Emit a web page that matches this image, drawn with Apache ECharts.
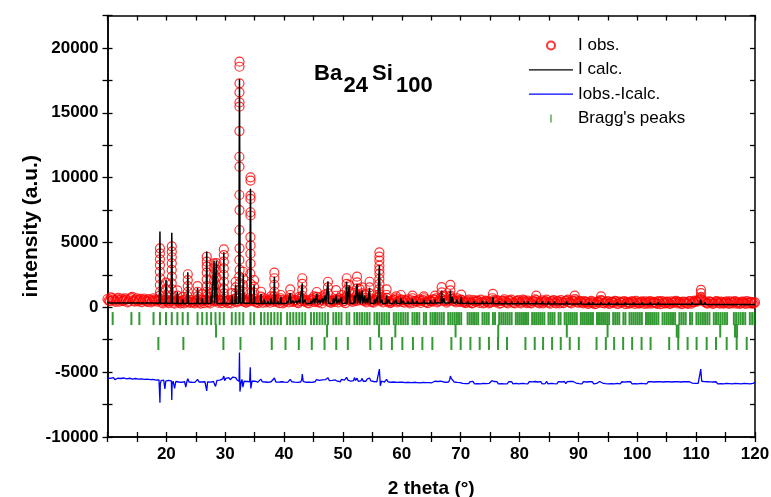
<!DOCTYPE html>
<html>
<head>
<meta charset="utf-8">
<script src="https://cdn.jsdelivr.net/npm/echarts@6/dist/echarts.min.js"></script>
<style>
html,body{margin:0;padding:0;background:#fff;}
#chart{width:771px;height:497px;}
</style>
</head>
<body>
<div id="chart"></div>
<script>
// X-ray powder pattern of Ba24Si100: observed points, calculated profile,
// difference curve (shifted down) and reflection markers for three phases.

// Observed intensities along the background, [2theta, counts]
const obsBackground = [
[10.0,640],[10.4,470],[10.8,700],[11.2,520],[11.6,610],[12.0,430],[12.4,680],[12.8,540],[13.2,590],[13.6,450],
[14.0,720],[14.4,510],[14.8,600],[15.2,460],[15.6,650],[16.0,530],[16.4,580],[16.8,420],[17.2,560],[17.6,480],
[18.0,600],[18.4,430],[18.8,520],[19.2,380],[19.6,460],[20.0,600],[20.4,330],[20.8,520],[21.2,360],[21.6,450],
[22.0,480],[22.4,310],[22.8,560],[23.2,390],[23.6,500],[24.0,340],[24.4,420],[24.8,300],[25.2,520],[25.6,380],
[26.0,560],[26.4,330],[26.8,540],[27.2,380],[27.6,640],[28.0,450],[28.4,560],[28.8,350],[29.2,470],[29.6,520],
[30.0,420],[30.4,330],[30.8,410],[31.2,560],[31.6,440],[32.0,380],[32.4,700],[32.8,520],[33.2,460],[33.6,360],
[34.0,450],[34.4,620],[34.8,480],[35.2,380],[35.6,320],[36.0,510],[36.4,360],[36.8,520],[37.2,470],[37.6,350],
[38.0,540],[38.4,600],[38.8,410],[39.2,330],[39.6,560],[40.0,390],[40.4,520],[40.8,380],[41.2,600],[41.6,450],
[42.0,520],[42.4,330],[42.8,480],[43.2,600],[43.6,420],[44.0,340],[44.4,470],[44.8,550],[45.2,390],[45.6,560],
[46.0,430],[46.4,300],[46.8,520],[47.2,600],[47.6,460],[48.0,350],[48.4,540],[48.8,620],[49.2,380],[49.6,560],
[50.0,430],[50.4,330],[50.8,640],[51.2,600],[51.6,420],[52.0,580],[52.4,660],[52.8,540],[53.2,620],[53.6,480],
[54.0,380],[54.4,600],[54.8,450],[55.2,350],[55.6,520],[56.0,600],[56.4,480],[56.8,380],[57.2,540],[57.6,420],
[58.0,330],[58.4,470],[58.8,540],[59.2,380],[59.6,460],[60.0,560],[60.4,350],[60.8,480],[61.2,400],[61.6,530],
[62.0,360],[62.4,470],[62.8,540],[63.2,340],[63.6,560],[64.0,420],[64.4,320],[64.8,510],[65.2,440],[65.6,560],
[66.0,380],[66.4,520],[66.8,640],[67.2,480],[67.6,360],[68.0,560],[68.4,620],[68.8,470],[69.2,380],[69.6,520],
[70.0,600],[70.4,400],[70.8,320],[71.2,480],[71.6,400],[72.0,300],[72.4,460],[72.8,520],[73.2,340],[73.6,430],
[74.0,360],[74.4,480],[74.8,300],[75.2,420],[75.6,560],[76.0,380],[76.4,470],[76.8,330],[77.2,520],[77.6,440],
[78.0,310],[78.4,470],[78.8,390],[79.2,300],[79.6,480],[80.0,380],[80.4,440],[80.8,520],[81.2,330],[81.6,410],
[82.0,300],[82.4,460],[82.8,560],[83.2,350],[83.6,420],[84.0,310],[84.4,480],[84.8,390],[85.2,280],[85.6,450],
[86.0,360],[86.4,500],[86.8,310],[87.2,430],[87.6,360],[88.0,520],[88.4,400],[88.8,300],[89.2,460],[89.6,540],
[90.0,350],[90.4,440],[90.8,300],[91.2,380],[91.6,260],[92.0,410],[92.4,330],[92.8,240],[93.2,420],[93.6,360],
[94.0,510],[94.4,300],[94.8,380],[95.2,260],[95.6,420],[96.0,340],[96.4,460],[96.8,280],[97.2,370],[97.6,430],
[98.0,250],[98.4,400],[98.8,320],[99.2,440],[99.6,270],[100.0,380],[100.4,310],[100.8,450],[101.2,260],[101.6,360],
[102.0,420],[102.4,280],[102.8,390],[103.2,330],[103.6,470],[104.0,250],[104.4,380],[104.8,310],[105.2,420],[105.6,270],
[106.0,360],[106.4,440],[106.8,300],[107.2,380],[107.6,250],[108.0,410],[108.4,330],[108.8,460],[109.2,280],[109.6,400],
[110.0,470],[110.4,560],[110.8,700],[111.2,520],[111.6,380],[112.0,300],[112.4,420],[112.8,260],[113.2,370],[113.6,440],
[114.0,290],[114.4,380],[114.8,320],[115.2,450],[115.6,260],[116.0,370],[116.4,420],[116.8,280],[117.2,390],[117.6,310],
[118.0,430],[118.4,260],[118.8,360],[119.2,420],[119.6,290],[120.0,380]
];
// Observed intensities along the background, intermediate steps, [2theta, counts]
const obsBackgroundMid = [
[10.2,520],[10.6,760],[11.0,600],[11.4,420],[11.8,730],[12.2,560],[12.6,470],[13.0,690],[13.4,380],[13.8,620],
[14.2,800],[14.6,440],[15.0,700],[15.4,560],[15.8,400],[16.2,680],[16.6,470],[17.0,640],[17.4,380],[17.8,700],
[18.2,520],[18.6,560],[19.0,640],[19.4,300],[19.8,560],[20.2,420],[20.6,480],[21.0,620],[21.4,280],[21.8,560],
[22.2,380],[22.6,470],[23.0,300],[23.4,620],[23.8,420],[24.2,560],[24.6,380],[25.0,460],[25.4,640],[25.8,290],
[26.2,480],[26.6,600],[27.0,420],[27.4,300],[27.8,560],[28.2,700],[28.6,480],[29.0,600],[29.4,330],[29.8,640],
[30.2,480],[30.6,560],[31.0,300],[31.4,620],[31.8,700],[32.2,480],[32.6,900],[33.0,620],[33.4,380],[33.8,540],
[34.2,700],[34.6,560],[35.0,640],[35.4,420],[35.8,500],[36.2,620],[36.6,700],[37.0,380],[37.4,560],[37.8,680],
[38.2,420],[38.6,500],[39.0,600],[39.4,700],[39.8,300],[40.2,480],[40.6,600],[41.0,700],[41.4,420],[41.8,560],
[42.2,380],[42.6,640],[43.0,700],[43.4,480],[43.8,560],[44.2,300],[44.6,620],[45.0,700],[45.4,480],[45.8,380],
[46.2,560],[46.6,680],[47.0,760],[47.4,620],[47.8,380],[48.2,500],[48.6,420],[49.0,560],[49.4,700],[49.8,640],
[50.2,480],[50.6,760],[51.0,680],[51.4,520],[51.8,700],[52.2,480],[52.6,760],[53.0,680],[53.4,560],[53.8,720],
[54.2,520],[54.6,680],[55.0,400],[55.4,580],[55.8,720],[56.2,820],[56.6,560],[57.0,640],[57.4,720],[57.8,480],
[58.2,380],[58.6,600],[59.0,700],[59.4,480],[59.8,620],[60.2,420],[60.6,560],[61.0,620],[61.4,300],[61.8,700],
[62.2,500],[62.6,420],[63.0,620],[63.4,480],[63.8,700],[64.2,380],[64.6,560],[65.0,460],[65.4,620],[65.8,700],
[66.2,480],[66.6,720],[67.0,800],[67.4,560],[67.8,460],[68.2,780],[68.6,640],[69.0,520],[69.4,700],[69.8,420],
[70.2,560],[70.6,460],[71.0,380],[71.4,600],[71.8,320],[72.2,560],[72.6,420],[73.0,480],[73.4,600],[73.8,300],
[74.2,520],[74.6,420],[75.0,360],[75.4,700],[75.8,460],[76.2,560],[76.6,280],[77.0,480],[77.4,620],[77.8,380],
[78.2,540],[78.6,600],[79.0,340],[79.4,470],[79.8,560],[80.2,300],[80.6,600],[81.0,420],[81.4,520],[81.8,340],
[82.2,460],[82.6,620],[83.0,420],[83.4,300],[83.8,540],[84.2,420],[84.6,600],[85.0,340],[85.4,480],[85.8,560],
[86.2,300],[86.6,440],[87.0,560],[87.4,320],[87.8,480],[88.2,600],[88.6,360],[89.0,520],[89.4,640],[89.8,380],
[90.2,500],[90.6,360],[91.0,480],[91.4,420],[91.8,300],[92.2,500],[92.6,380],[93.0,280],[93.4,460],[93.8,560],
[94.2,340],[94.6,420],[95.0,480],[95.4,300],[95.8,400],[96.2,500],[96.6,260],[97.0,440],[97.4,340],[97.8,480],
[98.2,360],[98.6,280],[99.0,460],[99.4,380],[99.8,500],[100.2,300],[100.6,400],[101.0,350],[101.4,460],[101.8,280],
[102.2,480],[102.6,360],[103.0,420],[103.4,270],[103.8,400],[104.2,480],[104.6,330],[105.0,440],[105.4,300],[105.8,460],
[106.2,360],[106.6,500],[107.0,420],[107.4,290],[107.8,440],[108.2,360],[108.6,270],[109.0,480],[109.4,380],[109.8,520],
[110.2,440],[110.6,620],[111.0,580],[111.4,440],[111.8,300],[112.2,460],[112.6,380],[113.0,300],[113.4,480],[113.8,340],
[114.2,440],[114.6,280],[115.0,400],[115.4,320],[115.8,460],[116.2,300],[116.6,480],[117.0,360],[117.4,260],[117.8,440],
[118.2,340],[118.6,470],[119.0,300],[119.4,400],[119.8,330]
];

// Observed intensities on the reflections, [2theta, counts]
const obsPeaks = [
[18.91,4550],[18.91,4160],[18.91,3700],[18.91,3260],[18.90,2740],[18.92,2240],[18.90,1720],[18.93,1200],[18.88,900],
[19.94,1900],[19.94,1400],[19.95,950],
[20.92,4700],[20.92,4290],[20.92,3860],[20.92,3390],[20.91,2880],[20.93,2360],[20.91,1850],[20.94,1390],[20.89,950],
[21.87,1300],[21.88,900],[22.77,800],
[23.64,2550],[23.64,2100],[23.63,1640],[23.65,1200],[23.62,850],
[25.30,1640],[25.30,1200],[25.31,850],[26.09,1000],
[26.86,3900],[26.86,3520],[26.86,3130],[26.86,2670],[26.85,2160],[26.87,1640],[26.85,1200],[26.88,850],
[27.61,1100],[27.62,800],
[28.10,3390],[28.10,3000],[28.10,2570],[28.09,2100],[28.11,1640],[28.09,1200],
[28.50,3400],[28.50,2900],[28.51,2300],[28.49,1700],[28.52,1150],
[29.76,4470],[29.76,4030],[29.76,3520],[29.76,3000],[29.75,2490],[29.77,1970],[29.75,1460],[29.78,1080],
[31.12,1100],[31.77,1970],[31.77,1540],[31.78,1080],
[32.42,18940],[32.42,18550],[32.42,17270],[32.42,16580],[32.42,15800],[32.42,15470],[32.42,13590],[32.41,11610],
[32.42,10840],[32.41,8660],[32.43,7500],[32.41,5960],[32.43,4550],[32.40,3650],[32.44,2880],[32.39,2370],
[32.45,1870],[32.38,1350],[32.47,1000],
[33.06,2740],[33.06,2240],[33.05,1720],[33.07,1200],
[34.29,10020],[34.29,9770],[34.29,8610],[34.29,8360],[34.29,7330],[34.29,7080],[34.28,5410],[34.30,4770],
[34.28,4130],[34.30,3360],[34.27,2600],[34.31,1800],[34.26,1100],
[34.90,2100],[34.90,1590],[34.91,1130],[36.08,1200],[36.09,820],[37.80,850],
[38.35,2670],[38.35,2240],[38.34,1720],[38.36,1200],[38.33,850],[39.45,950],
[41.04,1390],[41.05,950],[42.59,800],
[43.09,2240],[43.09,1800],[43.08,1330],[43.10,890],[45.07,850],[45.55,1180],[45.56,800],
[46.51,850],[46.98,1000],[47.45,1970],[47.45,1540],[47.46,1080],[48.83,1330],[48.84,890],[49.74,950],
[50.63,2240],[50.63,1800],[50.62,1330],[50.64,890],[51.07,1720],[51.07,1200],[51.95,1100],
[52.39,2360],[52.39,1930],[52.38,1460],[52.40,1000],[52.82,1400],[53.25,1540],[53.25,1080],[53.68,1000],
[54.52,1970],[54.52,1540],[54.53,1080],[55.78,950],
[56.19,4240],[56.19,3910],[56.19,3600],[56.19,3210],[56.18,2880],[56.20,2580],[56.18,2190],[56.20,1810],
[56.17,1400],[56.21,1000],
[57.42,1390],[57.43,950],[59.04,850],[59.84,950],[61.81,900],[63.74,850],[65.64,900],
[66.76,1550],[66.77,1150],[67.14,900],[68.25,1730],[68.25,1300],[68.26,900],
[70.09,985],[75.48,1040],[82.83,900],[89.38,900],[93.85,850],
[110.82,1350],[110.82,1090],[110.83,800]
];

// Calculated profile, [2theta, counts]
const calcProfile = [
[10.00,340],[10.78,340],[10.88,420],[10.98,340],[13.96,335],[14.06,420],[14.16,335],
[15.31,335],[15.41,450],[15.51,335],[17.72,330],[17.82,450],[17.92,330],
[18.81,320],[18.91,5850],[19.01,320],[19.84,310],[19.94,2150],[20.04,310],
[20.82,310],[20.92,5750],[21.02,310],[21.77,300],[21.87,1200],[21.97,300],
[22.67,300],[22.77,620],[22.87,300],[23.54,300],[23.64,2700],[23.74,300],
[25.20,300],[25.30,1500],[25.40,300],[25.99,300],[26.09,700],[26.19,300],
[26.76,300],[26.86,4300],[26.96,300],[27.51,300],[27.61,900],[27.71,300],
[28.00,300],[28.10,3600],[28.20,300],[28.40,300],[28.50,3600],[28.60,300],
[29.66,300],[29.76,4250],[29.86,300],[31.02,300],[31.12,900],[31.22,300],
[31.67,300],[31.77,1700],[31.87,300],[32.30,320],[32.42,17600],[32.54,340],
[32.96,330],[33.06,2550],[33.16,320],[34.17,320],[34.29,9150],[34.41,320],
[34.80,310],[34.90,1700],[35.00,300],[35.98,300],[36.08,1050],[36.18,300],
[36.56,300],[36.66,600],[36.76,300],[37.13,300],[37.23,500],[37.33,300],
[37.70,300],[37.80,700],[37.90,300],[38.25,300],[38.35,2350],[38.45,300],
[38.80,300],[38.90,500],[39.00,300],[39.35,300],[39.45,800],[39.55,300],
[40.42,300],[40.52,500],[40.62,300],[40.94,300],[41.04,1100],[41.14,300],
[41.46,300],[41.56,500],[41.66,300],[41.98,300],[42.08,500],[42.18,300],
[42.49,300],[42.59,600],[42.69,300],[42.99,300],[43.09,1850],[43.19,300],
[43.49,300],[43.59,600],[43.69,300],[44.48,300],[44.58,500],[44.68,300],
[44.97,300],[45.07,700],[45.17,300],[45.45,300],[45.55,1050],[45.65,300],
[45.93,300],[46.03,600],[46.13,300],[46.41,300],[46.51,700],[46.61,300],
[46.88,300],[46.98,900],[47.08,300],[47.35,300],[47.45,2000],[47.55,300],
[48.27,300],[48.37,700],[48.47,300],[48.73,300],[48.83,900],[48.93,300],
[49.18,300],[49.28,600],[49.38,300],[49.64,300],[49.74,800],[49.84,300],
[50.53,300],[50.63,1950],[50.73,300],[50.97,300],[51.07,1700],[51.17,300],
[51.85,300],[51.95,900],[52.05,300],[52.29,300],[52.39,1800],[52.49,300],
[52.72,300],[52.82,1200],[52.92,300],[53.15,300],[53.25,1300],[53.35,300],
[53.58,300],[53.68,900],[53.78,300],[54.00,300],[54.10,700],[54.20,300],
[54.42,300],[54.52,1500],[54.62,300],[55.26,300],[55.36,600],[55.46,300],
[55.68,300],[55.78,800],[55.88,300],[56.07,310],[56.19,3250],[56.31,310],
[56.51,300],[56.61,600],[56.71,300],[57.32,300],[57.42,900],[57.52,300],
[57.73,300],[57.83,600],[57.93,300],[58.54,300],[58.64,500],[58.74,300],
[58.94,300],[59.04,600],[59.14,300],[59.74,300],[59.84,700],[59.94,300],
[60.14,300],[60.24,500],[60.34,300],[60.92,310],[61.02,500],[61.12,310],
[61.71,310],[61.81,650],[61.91,310],[62.48,310],[62.58,500],[62.68,310],
[63.64,320],[63.74,600],[63.84,320],[64.78,320],[64.88,550],[64.98,320],
[65.54,330],[65.64,600],[65.74,330],[66.66,340],[66.76,1300],[66.86,340],
[67.04,340],[67.14,700],[67.24,340],[68.15,340],[68.25,1300],[68.35,340],
[68.52,340],[68.62,800],[68.72,340],[69.26,330],[69.36,600],[69.46,330],
[69.99,320],[70.09,800],[70.19,320],[71.08,300],[71.18,500],[71.28,300],
[72.16,300],[72.26,500],[72.36,300],[73.60,290],[73.70,500],[73.80,290],
[74.32,290],[74.42,450],[74.52,290],[75.38,290],[75.48,800],[75.58,290],
[76.44,280],[76.54,450],[76.64,280],[77.50,280],[77.60,500],[77.70,280],
[78.56,280],[78.66,450],[78.76,280],[79.60,280],[79.70,450],[79.80,280],
[80.65,280],[80.75,450],[80.85,280],[81.35,270],[81.45,450],[81.55,270],
[82.73,270],[82.83,450],[82.93,270],[83.77,270],[83.87,450],[83.97,270],
[84.81,260],[84.91,450],[85.01,260],[85.84,260],[85.94,450],[86.04,260],
[86.87,260],[86.97,400],[87.07,260],[87.90,260],[88.00,450],[88.10,260],
[88.93,250],[89.03,400],[89.13,250],[90.31,250],[90.41,450],[90.51,250],
[91.68,240],[91.78,400],[91.88,240],[92.37,240],[92.47,400],[92.57,240],
[93.75,240],[93.85,400],[93.95,240],[95.12,240],[95.22,400],[95.32,240],
[96.51,230],[96.61,400],[96.71,230],[97.89,230],[97.99,400],[98.09,230],
[99.28,230],[99.38,400],[99.48,230],[100.68,230],[100.78,400],[100.88,230],
[102.08,230],[102.18,400],[102.28,230],[103.49,230],[103.59,400],[103.69,230],
[104.91,230],[105.01,380],[105.11,230],[106.33,230],[106.43,380],[106.53,230],
[107.77,230],[107.87,380],[107.97,230],[109.22,230],[109.32,400],[109.42,230],
[110.68,230],[110.78,600],[110.88,230],[111.42,230],[111.52,400],[111.62,230],
[112.90,220],[113.00,350],[113.10,220],[114.40,220],[114.50,350],[114.60,220],
[115.16,220],[115.26,350],[115.36,220],[116.69,220],[116.79,350],[116.89,220],
[118.24,220],[118.34,350],[118.44,220],[119.42,220],[119.52,330],[119.62,220],
[120.00,220]
];

// Difference curve Iobs - Icalc, already shifted down, [2theta, counts]
const diffCurve = [
[10.00,-5440],[10.25,-5560],[10.50,-5480],[10.75,-5530],[11.00,-5420],[11.25,-5580],[11.50,-5500],[11.75,-5470],
[12.00,-5590],[12.25,-5490],[12.50,-5540],[12.75,-5450],[13.00,-5600],[13.25,-5510],[13.50,-5560],[13.75,-5470],
[14.00,-5620],[14.25,-5530],[14.50,-5580],[14.75,-5490],[15.00,-5640],[15.25,-5540],[15.50,-5600],[15.75,-5520],
[16.00,-5650],[16.25,-5560],[16.50,-5620],[16.75,-5540],[17.00,-5680],[17.25,-5580],[17.50,-5640],[17.75,-5560],
[18.00,-5700],[18.25,-5610],[18.50,-5660],[18.75,-5600],[18.85,-5700],[18.91,-7350],[18.97,-5900],[19.10,-5650],
[19.35,-5740],[19.55,-5620],[19.75,-6300],[19.90,-5700],[20.10,-5780],[20.35,-5640],[20.60,-5740],[20.85,-5680],
[20.92,-7150],[20.98,-5900],[21.15,-5700],[21.40,-6250],[21.60,-5720],[21.85,-5620],[22.10,-5760],[22.35,-5660],
[22.60,-5780],[22.85,-5640],[23.10,-5740],[23.30,-6150],[23.50,-5700],[23.64,-5500],[23.85,-5760],[24.10,-5640],
[24.35,-5780],[24.60,-5660],[24.85,-5790],[25.10,-5680],[25.30,-5560],[25.55,-5760],[25.80,-5650],[26.05,-5760],
[26.30,-5640],[26.55,-5740],[26.80,-5650],[26.86,-6450],[27.00,-5750],[27.25,-5620],[27.50,-5770],[27.75,-5640],
[28.00,-5720],[28.20,-5600],[28.35,-6100],[28.60,-5640],[28.85,-5740],[29.10,-5620],[29.35,-5700],[29.55,-5520],
[29.76,-5300],[29.90,-5650],[30.10,-5480],[30.35,-5600],[30.60,-5420],[30.85,-5580],[31.05,-5470],[31.30,-5380],
[31.55,-5520],[31.77,-5420],[32.00,-5600],[32.20,-5520],[32.35,-5700],[32.42,-3480],[32.50,-6500],[32.70,-5750],
[32.85,-5560],[33.00,-6150],[33.20,-5700],[33.45,-5600],[33.70,-5720],[33.95,-5620],[34.15,-5740],[34.25,-4620],
[34.35,-6250],[34.55,-5700],[34.80,-5560],[35.05,-5700],[35.30,-5620],[35.55,-5770],[35.80,-5650],[36.05,-5540],
[36.30,-5740],[36.55,-5640],[36.80,-5760],[37.05,-5650],[37.30,-5780],[37.55,-5660],[37.80,-5740],[38.05,-5640],
[38.35,-5450],[38.60,-5760],[38.85,-5650],[39.10,-5770],[39.35,-5660],[39.60,-5740],[39.85,-5630],[40.10,-5770],
[40.35,-5680],[40.60,-5790],[40.85,-5660],[41.05,-5560],[41.30,-5740],[41.55,-5650],[41.80,-5770],[42.05,-5680],
[42.30,-5790],[42.55,-5660],[42.80,-5760],[43.00,-5600],[43.09,-5150],[43.25,-5720],[43.50,-5650],[43.75,-5780],
[44.00,-5660],[44.25,-5770],[44.50,-5680],[44.75,-5790],[45.00,-5650],[45.25,-5740],[45.50,-5580],[45.75,-5720],
[46.00,-5640],[46.25,-5760],[46.50,-5600],[46.75,-5700],[47.00,-5580],[47.20,-5700],[47.45,-5430],[47.70,-5660],
[47.95,-5760],[48.20,-5640],[48.45,-5740],[48.70,-5600],[48.83,-5450],[49.05,-5700],[49.30,-5620],[49.55,-5740],
[49.75,-5560],[50.00,-5700],[50.25,-5620],[50.45,-5740],[50.63,-5400],[50.85,-5620],[51.07,-5480],[51.30,-5700],
[51.55,-5560],[51.80,-5660],[51.95,-5420],[52.15,-5640],[52.39,-5460],[52.60,-5700],[52.82,-5560],[53.05,-5680],
[53.25,-5480],[53.45,-5700],[53.70,-5580],[53.90,-5700],[54.10,-5540],[54.30,-5680],[54.52,-5450],[54.75,-5680],
[55.00,-5600],[55.25,-5720],[55.50,-5620],[55.75,-5740],[56.00,-5620],[56.19,-4760],[56.35,-6050],[56.55,-5700],
[56.80,-5620],[57.05,-5760],[57.25,-5650],[57.42,-5560],[57.65,-5740],[57.90,-5640],[58.15,-5780],[58.40,-5680],
[58.65,-5760],[58.90,-5660],[59.15,-5790],[59.40,-5690],[59.65,-5770],[59.85,-5620],[60.10,-5780],[60.35,-5700],
[60.60,-5800],[60.85,-5690],[61.10,-5780],[61.35,-5700],[61.60,-5810],[61.85,-5660],[62.10,-5780],[62.35,-5700],
[62.60,-5800],[62.85,-5700],[63.10,-5820],[63.35,-5720],[63.60,-5790],[63.85,-5700],[64.10,-5810],[64.35,-5730],
[64.60,-5800],[64.85,-5700],[65.10,-5820],[65.35,-5740],[65.60,-5700],[65.85,-5800],[66.10,-5720],[66.35,-5810],
[66.60,-5700],[66.76,-5580],[67.00,-5740],[67.20,-5660],[67.45,-5780],[67.70,-5680],[67.95,-5760],[68.15,-5560],
[68.25,-5300],[68.40,-5480],[68.65,-5620],[68.90,-5760],[69.15,-5680],[69.40,-5790],[69.65,-5700],[69.90,-5800],
[70.10,-5700],[70.35,-5860],[70.60,-5720],[70.85,-5880],[71.10,-5740],[71.35,-5890],[71.60,-5730],[71.85,-5870],
[72.10,-5720],[72.35,-5900],[72.60,-5750],[72.85,-5880],[73.10,-5730],[73.35,-5900],[73.60,-5760],[73.85,-5870],
[74.10,-5720],[74.35,-5890],[74.60,-5750],[74.85,-5860],[75.10,-5720],[75.30,-5660],[75.48,-5560],[75.65,-5720],
[75.90,-5870],[76.15,-5730],[76.40,-5900],[76.65,-5750],[76.90,-5880],[77.15,-5730],[77.40,-5900],[77.65,-5760],
[77.90,-5910],[78.15,-5740],[78.40,-5880],[78.65,-5730],[78.90,-5900],[79.15,-5750],[79.40,-5870],[79.65,-5720],
[79.90,-5900],[80.15,-5760],[80.40,-5870],[80.65,-5720],[80.90,-5890],[81.15,-5740],[81.40,-5900],[81.65,-5730],
[81.90,-5880],[82.15,-5750],[82.40,-5870],[82.65,-5720],[82.90,-5640],[83.10,-5760],[83.35,-5890],[83.60,-5730],
[83.85,-5900],[84.10,-5750],[84.35,-5880],[84.60,-5720],[84.85,-5900],[85.10,-5760],[85.35,-5870],[85.60,-5720],
[85.85,-5890],[86.10,-5740],[86.35,-5900],[86.60,-5730],[86.85,-5880],[87.10,-5760],[87.35,-5870],[87.60,-5720],
[87.85,-5890],[88.10,-5730],[88.35,-5870],[88.60,-5710],[88.85,-5860],[89.10,-5720],[89.38,-5660],[89.60,-5840],
[89.85,-5730],[90.10,-5890],[90.35,-5750],[90.60,-5900],[90.85,-5730],[91.10,-5880],[91.35,-5760],[91.60,-5900],
[91.85,-5740],[92.10,-5880],[92.35,-5730],[92.60,-5900],[92.85,-5760],[93.10,-5870],[93.35,-5730],[93.60,-5720],
[93.85,-5660],[94.10,-5840],[94.35,-5730],[94.60,-5890],[94.85,-5740],[95.10,-5900],[95.35,-5760],[95.60,-5880],
[95.85,-5730],[96.10,-5900],[96.35,-5760],[96.60,-5870],[96.85,-5730],[97.10,-5900],[97.35,-5740],[97.60,-5880],
[97.85,-5770],[98.10,-5900],[98.35,-5740],[98.60,-5870],[98.85,-5730],[99.10,-5900],[99.35,-5760],[99.60,-5880],
[99.85,-5740],[100.10,-5900],[100.35,-5760],[100.60,-5870],[100.85,-5730],[101.10,-5880],[101.35,-5760],[101.60,-5900],
[101.85,-5740],[102.10,-5870],[102.35,-5730],[102.60,-5880],[102.85,-5760],[103.10,-5900],[103.35,-5740],[103.60,-5870],
[103.85,-5730],[104.10,-5880],[104.35,-5760],[104.60,-5900],[104.85,-5740],[105.10,-5870],[105.35,-5730],[105.60,-5880],
[105.85,-5760],[106.10,-5900],[106.35,-5740],[106.60,-5870],[106.85,-5730],[107.10,-5880],[107.35,-5760],[107.60,-5900],
[107.85,-5740],[108.10,-5870],[108.35,-5730],[108.60,-5880],[108.85,-5740],[109.10,-5700],[109.35,-5840],[109.60,-5720],
[109.85,-5860],[110.10,-5750],[110.35,-5870],[110.60,-5980],[110.78,-4760],[110.95,-5700],[111.15,-5840],[111.40,-5730],
[111.65,-5870],[111.90,-5740],[112.15,-5880],[112.40,-5750],[112.65,-5900],[112.90,-5760],[113.15,-5880],[113.40,-5740],
[113.65,-5900],[113.90,-5750],[114.15,-5880],[114.40,-5760],[114.65,-5900],[114.90,-5750],[115.15,-5870],[115.40,-5740],
[115.65,-5880],[115.90,-5760],[116.15,-5900],[116.40,-5750],[116.65,-5870],[116.90,-5740],[117.15,-5880],[117.40,-5760],
[117.65,-5900],[117.90,-5750],[118.15,-5870],[118.40,-5740],[118.65,-5880],[118.90,-5760],[119.15,-5900],[119.40,-5750],
[119.65,-5870],[120.00,-5790]
];

// Reflection positions (2theta) of Ba24Si100
const braggBa24Si100 = [
10.88,14.06,15.41,17.82,18.91,19.94,20.92,21.87,22.77,23.64,25.30,26.09,26.86,27.61,28.35,29.06,29.76,
31.12,31.77,32.42,33.06,34.29,34.90,36.08,36.66,37.23,37.80,38.35,38.90,39.45,40.52,41.04,41.56,42.08,
42.59,43.09,43.59,44.58,45.07,45.55,46.03,46.51,46.98,47.45,48.37,48.83,49.28,49.74,50.63,51.07,51.95,
52.39,52.82,53.25,53.68,54.10,54.52,55.36,55.78,56.19,56.61,57.02,57.42,57.83,58.64,59.04,59.44,59.84,
60.24,60.63,61.02,61.81,62.19,62.58,62.97,63.74,64.12,64.88,65.26,65.64,66.01,66.39,66.76,67.14,67.88,
68.25,68.62,68.99,69.36,69.72,70.09,71.18,71.54,71.90,72.26,72.63,72.98,73.70,74.06,74.42,74.77,75.48,
75.84,76.54,76.90,77.25,77.60,77.95,78.30,78.66,79.36,79.70,80.05,80.40,80.75,81.10,81.45,82.14,82.49,
82.83,83.18,83.52,83.87,84.22,84.91,85.25,85.59,85.94,86.63,86.97,87.66,88.00,88.35,88.69,89.03,89.38,
89.72,90.41,90.75,91.09,91.44,91.78,92.13,92.47,93.16,93.50,93.85,94.19,94.53,94.88,95.22,95.91,96.26,
96.61,96.95,97.64,97.99,98.68,99.03,99.38,99.73,100.08,100.43,100.78,101.48,101.83,102.18,102.53,102.88,
103.23,103.59,104.29,104.65,105.01,105.36,105.72,106.07,106.43,107.15,107.51,107.87,108.23,108.96,109.32,
110.05,110.41,110.78,111.15,111.52,111.89,112.26,113.00,113.38,113.75,114.13,114.50,114.88,115.26,116.41,
116.79,117.18,117.56,117.95,118.34,119.12,119.52,119.91
];
// Reflection positions (2theta) of Si
const braggSi = [28.44,47.30,56.12,58.90,69.13,76.38,88.03,94.95,106.71,107.00,114.09,116.60,116.95];
// Reflection positions (2theta) of the third phase
const braggThird = [
18.64,22.89,29.69,32.59,37.91,40.24,42.50,44.71,46.87,48.86,50.83,54.64,56.51,58.32,60.09,61.89,63.49,
65.19,68.42,70.00,71.65,73.23,74.80,76.34,77.87,81.00,82.58,84.00,85.53,87.00,88.53,90.07,93.08,94.66,
96.07,97.60,99.13,100.73,102.26,105.42,106.96,108.55,110.08,111.79,113.37,115.19,116.89,118.59
];

// Axis ticks
const xTickStep = 5;
const yTickStep = 2500;

const FONT = '"Liberation Sans", Arial, Helvetica, sans-serif';
const rowLevels = [-870, -1830, -2790];   // vertical placement of the three marker rows
const markerColor = '#008000';

const chart = echarts.init(document.getElementById('chart'), null, {renderer: 'canvas'});

const axisLine = {show: true, onZero: false, lineStyle: {color: '#000', width: 1.5}};
const tickStyle = {color: '#000', width: 1.3};

function xAx(position, inside, labels) {
  return {
    type: 'value', min: 10, max: 120, interval: xTickStep, position: position,
    axisLine: axisLine,
    axisTick: {show: true, inside: inside, length: 5, lineStyle: tickStyle},
    axisLabel: labels ? {
      show: true, margin: 9, color: '#000', fontSize: 17, fontWeight: 'bold', fontFamily: FONT,
      formatter: v => (v % 10 === 0 && v > 10) ? String(v) : ''
    } : {show: false},
    splitLine: {show: false},
    name: labels ? '2 theta (\u00b0)' : '',
    nameLocation: 'middle', nameGap: 42,
    nameTextStyle: {color: '#000', fontSize: 19, fontWeight: 'bold', fontFamily: FONT}
  };
}
function yAx(position, inside, labels) {
  return {
    type: 'value', min: -10000, max: 22500, interval: yTickStep, position: position,
    axisLine: axisLine,
    axisTick: {show: true, inside: inside, length: 5, lineStyle: tickStyle},
    axisLabel: labels ? {
      show: true, margin: 9, color: '#000', fontSize: 17, fontWeight: 'bold', fontFamily: FONT,
      formatter: v => (v % 5000 === 0 && v <= 20000) ? String(v) : ''
    } : {show: false},
    splitLine: {show: false},
    name: labels ? 'intensity (a.u.)' : '',
    nameLocation: 'middle', nameGap: 66, nameRotate: 90, nameMoveOverlap: false,
    nameTextStyle: {color: '#000', fontSize: 21, fontWeight: 'bold', fontFamily: FONT}
  };
}

const braggSeries = [braggBa24Si100, braggSi, braggThird].map((list, i) => ({
  name: "Bragg's peaks", type: 'scatter', xAxisIndex: 0, yAxisIndex: 0,
  data: list.map(t => [t, rowLevels[i]]),
  symbol: 'rect', symbolSize: [2, 13],
  itemStyle: {color: markerColor},
  z: 2, silent: true
}));

const lineIcon = 'path://M0,0L44,0L44,1.3L0,1.3Z';

const option = {
  animation: false,
  grid: {left: 107.5, right: 16, top: 15.5, bottom: 60, containLabel: false, outerBoundsMode: 'none'},
  xAxis: [xAx('bottom', false, true), xAx('bottom', true, false), xAx('top', true, false)],
  yAxis: [yAx('left', false, true), yAx('left', true, false), yAx('right', true, false)],
  legend: {
    orient: 'vertical', left: 524, top: 32, itemWidth: 44, itemHeight: 8, itemGap: 7.3,
    selectedMode: false,
    textStyle: {color: '#000', fontSize: 17, fontFamily: FONT},
    data: [
      {name: 'I obs.'},
      {name: 'I calc.', icon: lineIcon, itemStyle: {color: '#000'}},
      {name: 'Iobs.-Icalc.', icon: lineIcon, itemStyle: {color: '#0000ff'}},
      {name: "Bragg's peaks", icon: 'path://M0,0L2,0L2,9L0,9Z', itemStyle: {color: '#4fa84f'}}
    ]
  },
  graphic: [
    {type: 'text', x: 314, y: 63, style: {text: 'Ba', fontSize: 22, fontWeight: 'bold', fontFamily: FONT, fill: '#000', verticalAlign: 'top'}},
    {type: 'text', x: 343.5, y: 75, style: {text: '24', fontSize: 22, fontWeight: 'bold', fontFamily: FONT, fill: '#000', verticalAlign: 'top'}},
    {type: 'text', x: 372, y: 63, style: {text: 'Si', fontSize: 22, fontWeight: 'bold', fontFamily: FONT, fill: '#000', verticalAlign: 'top'}},
    {type: 'text', x: 396, y: 75, style: {text: '100', fontSize: 22, fontWeight: 'bold', fontFamily: FONT, fill: '#000', verticalAlign: 'top'}}
  ],
  series: [
    {
      name: 'I obs.', type: 'scatter', xAxisIndex: 0, yAxisIndex: 0,
      data: obsBackground.concat(obsBackgroundMid, obsPeaks),
      symbol: 'circle', symbolSize: 9,
      itemStyle: {color: 'rgba(255,0,0,0)', borderColor: '#ff0000', borderWidth: 1.2},
      z: 3, silent: true
    },
    {
      name: 'I calc.', type: 'line', xAxisIndex: 0, yAxisIndex: 0,
      data: calcProfile, symbol: 'none', showSymbol: false,
      lineStyle: {color: '#000', width: 1.5}, itemStyle: {color: '#000'},
      z: 4, silent: true
    },
    {
      name: 'Iobs.-Icalc.', type: 'line', xAxisIndex: 0, yAxisIndex: 0,
      data: diffCurve, symbol: 'none', showSymbol: false,
      lineStyle: {color: '#0000ff', width: 1.3}, itemStyle: {color: '#0000ff'},
      z: 4, silent: true
    }
  ].concat(braggSeries)
};

chart.setOption(option);
</script>
</body>
</html>
